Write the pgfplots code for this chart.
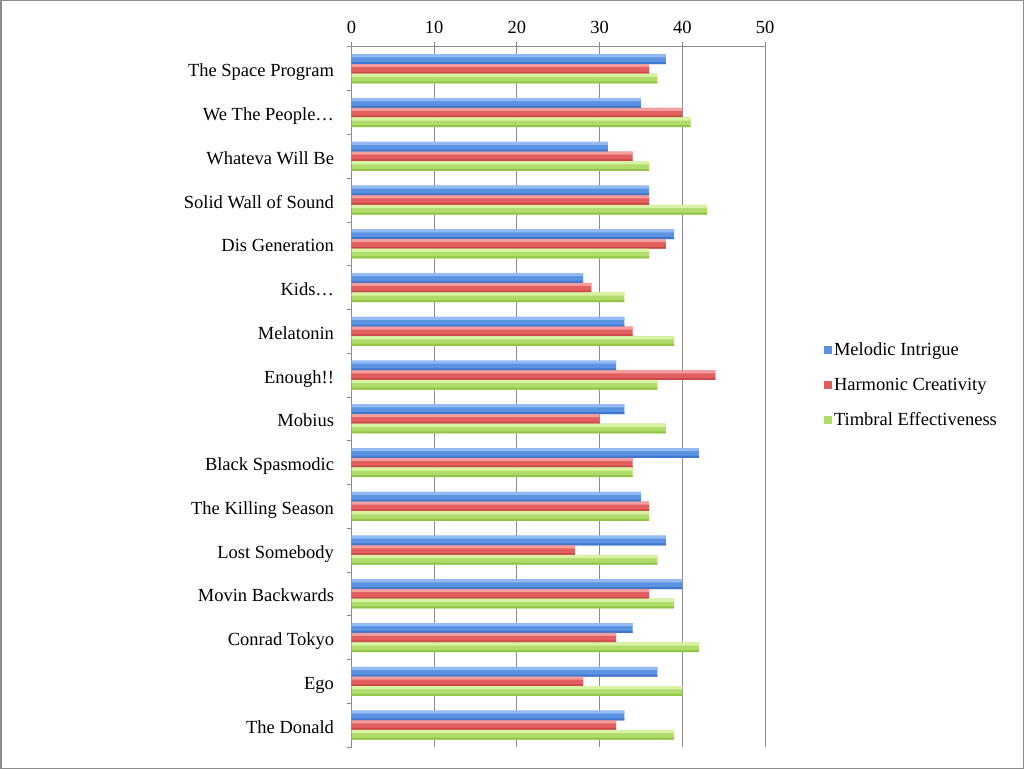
\documentclass[border=0pt]{standalone}
\usepackage{fontspec}
\setmainfont{Liberation Serif}
\usepackage{pgfplots}
\pgfplotsset{compat=1.18}
\usepackage{pgfplotstable}
\definecolor{bluetop}{HTML}{93BAF3}
\definecolor{bluemid}{HTML}{5C92E2}
\definecolor{bluebot}{HTML}{4077CC}
\definecolor{redtop}{HTML}{F59E9E}
\definecolor{redmid}{HTML}{E35F5F}
\definecolor{redbot}{HTML}{C84747}
\definecolor{greentop}{HTML}{D9F3A4}
\definecolor{greenmid}{HTML}{B0DC6C}
\definecolor{greenbot}{HTML}{92C54A}
\definecolor{axgray}{HTML}{8C8C8C}
\pgfplotstableread{
idx mel har tim
0 38 36 37
1 35 40 41
2 31 34 36
3 36 36 43
4 39 38 36
5 28 29 33
6 33 34 39
7 32 44 37
8 33 30 38
9 42 34 34
10 35 36 36
11 38 27 37
12 40 36 39
13 34 32 42
14 37 28 40
15 33 32 39
}\datatable
\begin{document}
\begin{tikzpicture}
\useasboundingbox (0,0) rectangle (1024bp,769bp);
\draw[axgray, line width=1.5bp] (0.75bp,0.75bp) rectangle (1023.25bp,768.25bp);
\begin{axis}[
  at={(351.5bp,22bp)}, anchor=south west,
  scale only axis, width=413.5bp, height=700bp,
  font=\fontsize{18.5bp}{22bp}\selectfont,
  /pgf/number format/assume math mode=true,
  xbar, bar width=0.222,
  y dir=reverse,
  xmin=0, xmax=50, ymin=-0.5, ymax=15.5,
  axis x line*=top, axis y line*=left,
  axis line style={axgray, line width=1bp},
  tick align=outside,
  major tick length=5bp,
  tick style={axgray, line width=1bp},
  xtick={0,10,...,50},
  xmajorgrids, grid style={axgray, line width=1bp},
  xticklabel style={yshift=-2bp},
  ytick={-0.5,0.5,...,15.5},
  yticklabels={},
  extra y ticks={0,1,...,15},
  extra y tick labels={The Space Program,We The People\ldots,Whateva Will Be,Solid Wall of Sound,Dis Generation,Kids\ldots,Melatonin,Enough!!,Mobius,Black Spasmodic,The Killing Season,Lost Somebody,Movin Backwards,Conrad Tokyo,Ego,The Donald},
  extra y tick style={tick style={draw=none}, grid=none},
  typeset ticklabels with strut,
  yticklabel style={xshift=-9bp, yshift=-3.5bp},
  legend style={draw=none, at={(1.135,0.517)}, anchor=west, font=\fontsize{18.5bp}{22bp}\selectfont, row sep=17bp, cells={anchor=west}},
  legend image code/.code={\fill[#1] (0bp,-4bp) rectangle (8bp,4bp);},
  legend cell align=left,
]
\addplot[draw=none, fill=bluemid, bar shift=-0.222] table[x=mel, y=idx] {\datatable};
\addplot[draw=none, fill=redmid, bar shift=0] table[x=har, y=idx] {\datatable};
\addplot[draw=none, fill=greenmid, bar shift=0.222] table[x=tim, y=idx] {\datatable};
\legend{Melodic Intrigue, Harmonic Creativity, Timbral Effectiveness}
% highlight and shade strips
\addplot[forget plot, draw=none, fill=bluetop, bar width=0.07, bar shift=-0.222-0.076] table[x=mel, y=idx] {\datatable};
\addplot[forget plot, draw=none, fill=bluebot, bar width=0.045, bar shift=-0.222+0.0885] table[x=mel, y=idx] {\datatable};
\addplot[forget plot, draw=none, fill=redtop, bar width=0.07, bar shift=-0.076] table[x=har, y=idx] {\datatable};
\addplot[forget plot, draw=none, fill=redbot, bar width=0.045, bar shift=0.0885] table[x=har, y=idx] {\datatable};
\addplot[forget plot, draw=none, fill=greentop, bar width=0.07, bar shift=0.222-0.076] table[x=tim, y=idx] {\datatable};
\addplot[forget plot, draw=none, fill=greenbot, bar width=0.045, bar shift=0.222+0.0885] table[x=tim, y=idx] {\datatable};
\end{axis}
\end{tikzpicture}
\end{document}
